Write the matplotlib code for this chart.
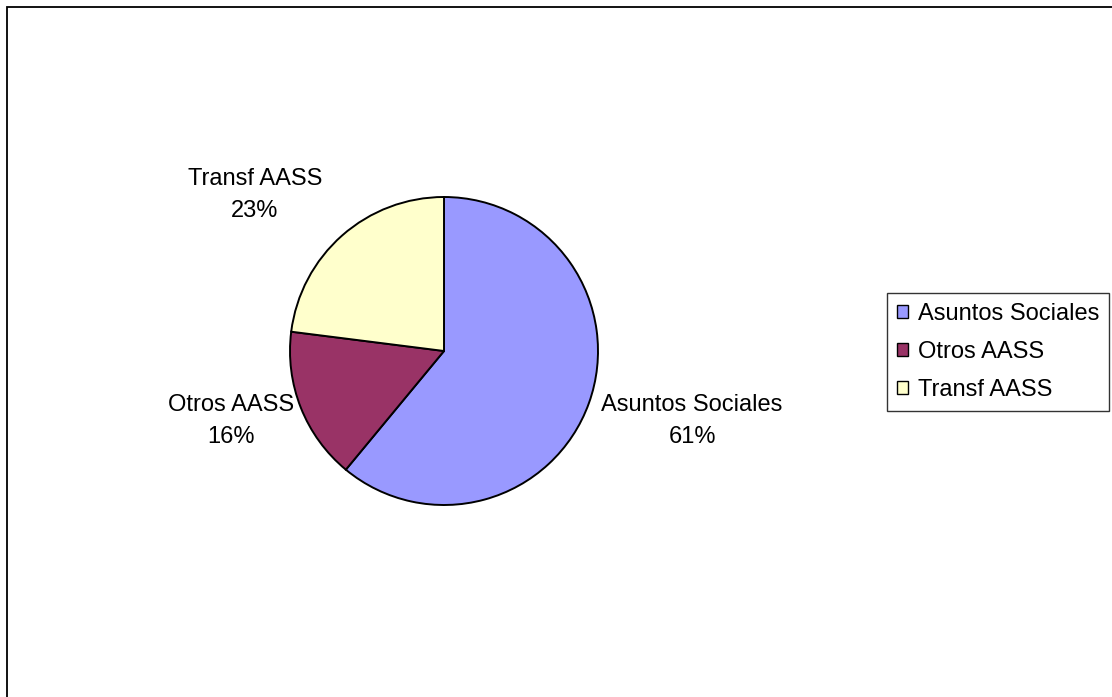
import matplotlib.pyplot as plt
from matplotlib.patches import Rectangle

# --- Data ---
labels = ["Asuntos Sociales", "Otros AASS", "Transf AASS"]
shares = [61, 16, 23]
colors = ["#9999FF", "#993366", "#FFFFCC"]

# --- Layout (pixels) ---
W, H = 1112, 697
CX, CY, R = 444, 351, 154
label_px = [(692, 421), (231, 421), (255, 195)]

plt.rcParams['font.family'] = ['Liberation Sans', 'DejaVu Sans']

fig = plt.figure(figsize=(W / 100, H / 100), dpi=100)
fig.patch.set_facecolor("white")

# outer chart border (only top/left visible)
fig.patches.append(Rectangle((7 / W, -0.05), 1.1, 1 - 7 / H + 0.05,
                             transform=fig.transFigure, fill=False,
                             edgecolor="black", linewidth=1.3))

ax = fig.add_axes([(CX - R) / W, 1 - (CY + R) / H, 2 * R / W, 2 * R / H])
wedges, _ = ax.pie(shares, colors=colors, startangle=90, counterclock=False,
                   wedgeprops=dict(edgecolor="black", linewidth=1.4))
ax.set_xlim(-1, 1)
ax.set_ylim(-1, 1)
ax.set_aspect("auto")
ax.axis("off")

for (px, py), name, val in zip(label_px, labels, shares):
    fig.text(px / W, 1 - py / H, f"{name}\n{val}%", ha="center", va="center",
             fontsize=17, linespacing=1.55)

leg = fig.legend(wedges, labels, loc="center", bbox_to_anchor=(998 / W, 1 - 352 / H),
                 fontsize=17, frameon=True, fancybox=False, edgecolor="black",
                 handlelength=0.5, handleheight=0.5, handletextpad=0.4,
                 labelspacing=0.68, borderpad=0.42, borderaxespad=0)
leg.get_frame().set_linewidth(1.0)
for h in leg.legend_handles:
    h.set_linewidth(1.0)

fig.savefig("out.png", dpi=100)
